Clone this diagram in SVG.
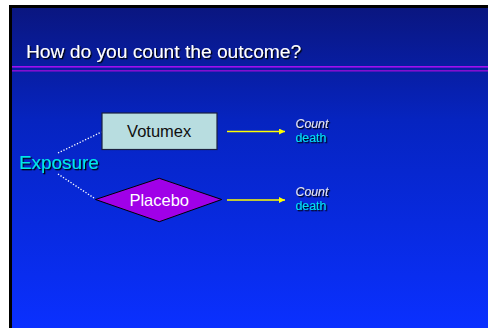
<svg xmlns="http://www.w3.org/2000/svg" width="488" height="328" viewBox="0 0 488 328">
<defs>
<linearGradient id="bg" x1="0" y1="0" x2="0" y2="1">
<stop offset="0" stop-color="#0a1680"/>
<stop offset="0.35" stop-color="#0624c0"/>
<stop offset="1" stop-color="#0a30ff"/>
</linearGradient>
<filter id="shadow" x="-10%" y="-20%" width="130%" height="150%">
<feDropShadow dx="1.3" dy="1.3" stdDeviation="0.3" flood-color="#000000" flood-opacity="1"/>
</filter>
<marker id="ah" viewBox="0 0 10 10" refX="10" refY="5" markerWidth="8" markerHeight="6" markerUnits="userSpaceOnUse" orient="auto">
<path d="M0,0 L10,5 L0,10 z" fill="#ffff00"/>
</marker>
</defs>
<style>
text{font-family:"Liberation Sans",Arial,sans-serif}
.sh{filter:url(#shadow)}
.arrow{stroke:#ffff00;stroke-width:1.6;fill:none}
.dot{stroke:#ffffff;stroke-width:1.3;stroke-dasharray:1.3 1.7;fill:none}
.cnt{font-size:12.3px;font-style:italic;fill:#e8e8f0}
.dth{font-size:12.3px;fill:#00e0f0}
.lbl{font-size:16.5px;text-anchor:middle}
</style>
<rect x="0" y="0" width="488" height="328" fill="#ffffff"/>
<rect x="9" y="5" width="479" height="323" fill="#000000"/>
<rect x="12" y="8" width="476" height="320" fill="url(#bg)"/>
<rect x="12" y="66" width="476" height="1.6" fill="#a010f0"/>
<rect x="12" y="70" width="476" height="1.6" fill="#8010d0"/>
<g id="title">
<text x="26" y="58.3" font-size="19.2" fill="#ffffff" class="sh">How do you count the outcome?</text>
</g>
<g id="connectors">
<line class="dot" x1="58" y1="153" x2="101.5" y2="132"/>
<line class="dot" x1="58" y1="174" x2="95.5" y2="199"/>
<line class="arrow" x1="227" y1="131.5" x2="285" y2="131.5" marker-end="url(#ah)"/>
<line class="arrow" x1="227" y1="200" x2="285" y2="200" marker-end="url(#ah)"/>
</g>
<g id="exposure">
<text x="19" y="168.5" font-size="18.9" fill="#00e8e8" class="sh">Exposure</text>
</g>
<g id="votumex">
<rect x="102" y="113" width="115" height="36.5" fill="#b8dde0" stroke="#1a2040" stroke-width="1.2"/>
<text x="159.2" y="136.7" class="lbl" fill="#101010">Votumex</text>
</g>
<g id="placebo">
<polygon points="95.5,199.5 159.3,178.3 221.7,199.5 159.3,221.7" fill="#a000e8" stroke="#000000" stroke-width="1"/>
<text x="159.2" y="205.7" class="lbl" fill="#ffffff">Placebo</text>
</g>
<g id="out1">
<text x="295.5" y="127.8" class="cnt sh">Count</text>
<text x="295.5" y="141.6" class="dth sh">death</text>
</g>
<g id="out2">
<text x="295.5" y="196.3" class="cnt sh">Count</text>
<text x="295.5" y="210.1" class="dth sh">death</text>
</g>
</svg>
